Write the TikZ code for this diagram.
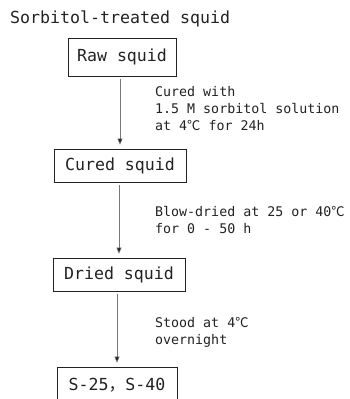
\documentclass[tikz,border=0pt]{standalone}
\usepackage{fontspec}
\setmainfont{DejaVu Sans Mono}
\newfontfamily\cjk{Noto Sans CJK JP}
\usepackage{tikz}
\usetikzlibrary{arrows.meta,positioning}
\definecolor{InkGray}{HTML}{222222}
\definecolor{LineGray}{HTML}{777777}
\newcommand{\degC}{{\cjk ℃}}

\begin{document}
\begin{tikzpicture}[x=1pt, y=1pt,
  stagebox/.style={draw=InkGray, line width=0.8pt, minimum height=33pt,
    inner sep=0pt, font=\fontsize{16.6}{18}\selectfont, text=InkGray},
  flow/.style={-{Triangle[length=6pt, width=5pt, fill=InkGray]}, line width=0.5pt,
    draw=LineGray, shorten <=3pt, shorten >=4pt},
  step note/.style={anchor=base west, align=left, inner sep=0pt, text=InkGray,
    font=\fontsize{13.3}{16.7}\selectfont}
]
\useasboundingbox (0,0) rectangle (349,-399);
\node[anchor=base west, inner sep=0pt, text=InkGray, font=\fontsize{16.6}{18}\selectfont]
  (title) at (10,-23) {Sorbitol-treated squid};
\node[stagebox, minimum width=108pt, minimum height=38pt] (raw) at (122,-57) {Raw squid};
\node[stagebox, minimum width=132pt] (cured) at (120,-165.5) {Cured squid};
\node[stagebox, minimum width=132pt] (dried) at (119,-274.5) {Dried squid};
\node[stagebox, minimum width=120pt, minimum height=36pt] (final) at (117,-385) {S-25{\cjk ，}S-40};
\draw[flow] (raw.south -| cured.north) -- (cured.north);
\draw[flow] (cured.south -| dried.north) -- (dried.north);
\draw[flow] (dried.south -| final.north) -- (final.north);
% base anchor of a multi-line note sits on its last line
\node[step note] (curing) at (155,-130) {Cured with\\1.5 M sorbitol solution\\at 4\degC{} for 24h};
\node[step note] (drying) at (155,-233) {Blow-dried at 25 or 40\degC\\for 0 - 50 h};
\node[step note] (standing) at (155,-344) {Stood at 4\degC\\overnight};
\end{tikzpicture}
\end{document}
